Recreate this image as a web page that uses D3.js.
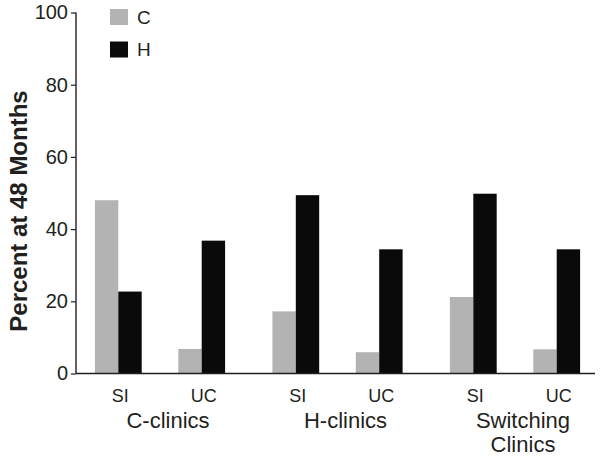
<!DOCTYPE html>
<html>
<head>
<meta charset="utf-8">
<script src="https://cdn.jsdelivr.net/npm/d3@7"></script>
<style>
  html, body { margin: 0; padding: 0; background: #fff; }
  text { font-family: "Liberation Sans", Arial, Helvetica, sans-serif; fill: #231f20; }
</style>
</head>
<body>
<svg id="chart" width="601" height="462"></svg>
<script>
// ---- data ----
const groups = ["C-clinics", "H-clinics", "Switching Clinics"];
const groupLabelLines = [["C-clinics"], ["H-clinics"], ["Switching", "Clinics"]];
const arms = ["SI", "UC"];
const series = ["C", "H"];
// values[group][arm]
const valuesC = [[48, 6.8], [17.2, 5.9], [21.2, 6.7]];
const valuesH = [[22.7, 36.8], [49.4, 34.4], [49.8, 34.4]];
const yTicks = [0, 20, 40, 60, 80, 100];
const yTitle = "Percent at 48 Months";

// ---- layout ----
const svg = d3.select("#chart");
const colors = { C: "#b3b3b3", H: "#0a0a0a" };
const axisX0 = 76, axisX1 = 595;
const y = d3.scaleLinear().domain([0, 100]).range([373.5, 12.5]);
const xGroup = d3.scalePoint().domain(groups).range([160, 515]);
const xArm = d3.scalePoint().domain(arms).range([-41.7, 41.7]);
const xSeries = d3.scaleBand().domain(series).range([-23.4, 23.4]).padding(0);

const rows = [];
groups.forEach((g, gi) => {
  arms.forEach((a, ai) => {
    rows.push({ g, a, s: "C", v: valuesC[gi][ai] });
    rows.push({ g, a, s: "H", v: valuesH[gi][ai] });
  });
});

// bars
svg.append("g").selectAll("rect").data(rows).join("rect")
  .attr("x", d => xGroup(d.g) + xArm(d.a) + xSeries(d.s))
  .attr("width", xSeries.bandwidth())
  .attr("y", d => y(d.v))
  .attr("height", d => y(0) - y(d.v))
  .attr("fill", d => colors[d.s]);

// y axis
const yAxis = d3.axisLeft(y).tickValues(yTicks).tickSize(5).tickPadding(3).tickFormat(d3.format("d"));
const gy = svg.append("g").attr("transform", `translate(${axisX0},0)`).call(yAxis);
gy.select(".domain").attr("stroke", "#231f20").attr("stroke-width", 1.4).attr("d", `M0,${y(100)}V${y(0)}`);
gy.selectAll(".tick line").attr("stroke", "#231f20").attr("stroke-width", 1.2);
gy.selectAll(".tick text").style("font-size", "20px").attr("fill", "#231f20")
  .style("font-family", "'Liberation Sans', Arial, sans-serif");

// x axis line
svg.append("line").attr("x1", axisX0).attr("x2", axisX1)
  .attr("y1", y(0)).attr("y2", y(0))
  .attr("stroke", "#231f20").attr("stroke-width", 1.4);

// arm labels
const armLabels = [];
groups.forEach(g => arms.forEach(a => armLabels.push({ g, a })));
svg.append("g").selectAll("text").data(armLabels).join("text")
  .attr("x", d => xGroup(d.g) + xArm(d.a) + 2)
  .attr("y", 402)
  .attr("text-anchor", "middle")
  .style("font-size", "18px")
  .text(d => d.a);

// group labels
groups.forEach((g, gi) => {
  const t = svg.append("text")
    .attr("y", 428)
    .attr("text-anchor", "middle")
    .style("font-size", "22px");
  groupLabelLines[gi].forEach((line, li) => {
    t.append("tspan").attr("x", xGroup(g) + 8).attr("dy", li === 0 ? 0 : 24).text(line);
  });
});

// y title
svg.append("text")
  .attr("transform", `translate(27,211) rotate(-90)`)
  .attr("text-anchor", "middle")
  .style("font-size", "24px")
  .style("font-weight", "bold")
  .text(yTitle);

// legend
const legend = svg.append("g").selectAll("g").data(series).join("g")
  .attr("transform", (d, i) => `translate(110,${9 + i * 32.5})`);
legend.append("rect").attr("width", 18).attr("height", 16).attr("fill", d => colors[d]);
legend.append("text").attr("x", 27).attr("y", 8).attr("dy", "0.35em")
  .style("font-size", "19px").text(d => d);
</script>
</body>
</html>
